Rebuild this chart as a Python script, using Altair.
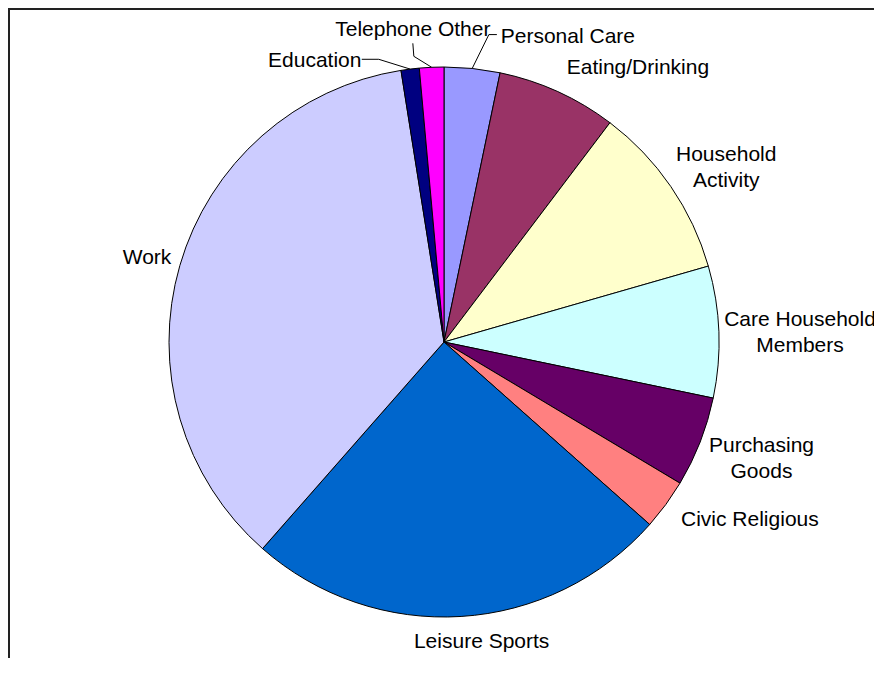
import altair as alt
import pandas as pd

# ---------------- data ----------------
categories = ["Personal Care", "Eating/Drinking", "Household Activity", "Care Household Members",
              "Purchasing Goods", "Civic Religious", "Leisure Sports", "Work", "Education",
              "Telephone Other"]
values = [3.27, 7.04, 10.24, 7.72, 5.31, 2.97, 24.92, 36.03, 1.07, 1.43]
label_texts = ["Personal Care", "Eating/Drinking", "Household\nActivity", "Care Household\nMembers",
               "Purchasing\nGoods", "Civic Religious", "Leisure Sports", "Work", "Education",
               "Telephone Other"]
colors = ["#9999FF", "#993366", "#FFFFCC", "#CCFFFF", "#660066", "#FF8080", "#0066CC",
          "#CCCCFF", "#000080", "#FF00FF"]

# ---------------- layout / style ----------------
W, H = 866, 650
CX, CY, R = 436, 334, 275
FONT = "Liberation Sans"
FS = 21
LH = 25.7
# manually moved labels (like Excel's dragged labels): nudge, leader elbow, leader end
MOVED = {
    "Personal Care": {"nudge": (64, -6), "elbow": (-79, -2), "end": (-71, -2)},
    "Telephone Other": {"nudge": (-3, -11), "elbow": (1, 26), "end": (0, 13)},
    "Education": {"nudge": (-68, 18), "elbow": (64, -2), "end": (47, -2)},
}

df = pd.DataFrame({
    "category": categories,
    "value": values,
    "label": label_texts,
    "order": list(range(len(categories))),
})
df["lines"] = [t.count("\n") + 1 for t in label_texts]
df["chars"] = [max(len(s) for s in t.split("\n")) for t in label_texts]

base = alt.Chart(df)

pie = base.mark_arc(radius=R, stroke="black", strokeWidth=1).encode(
    theta=alt.Theta("value:Q", stack=True),
    order=alt.Order("order:Q"),
    color=alt.Color("category:N", scale=alt.Scale(domain=categories, range=colors), legend=None),
    x=alt.value(CX),
    y=alt.value(CY),
)

lab = base.transform_joinaggregate(total="sum(value)").transform_window(
    cum="sum(value)", sort=[alt.SortField("order")], frame=[None, 0]
).transform_calculate(
    a="(datum.cum - datum.value/2) / datum.total * 2 * PI",
).transform_calculate(
    ax=f"{CX} + {R + 10} * sin(datum.a)",
    ay=f"{CY} - {R + 10} * cos(datum.a)",
    px=f"{CX} + {R} * sin(datum.a)",
    py=f"{CY} - {R} * cos(datum.a)",
    hw="datum.chars * 4.8",
    hh="datum.lines * 12",
).transform_calculate(
    lx="datum.ax + clamp(4.5 * sin(datum.a), -1, 1) * (datum.hw + 4)",
    ly="datum.ay - cos(datum.a) * (datum.hh + 4) - (datum.lines - 1) * 10",
)

text_style = dict(font=FONT, fontSize=FS, lineBreak="\n", lineHeight=LH,
                  align="center", baseline="middle", color="black")

xenc = alt.X("lx:Q", scale=None, axis=None)
yenc = alt.Y("ly:Q", scale=None, axis=None)

moved_names = list(MOVED.keys())
moved_js = "[" + ", ".join('"' + n + '"' for n in moved_names) + "]"
main_labels = lab.transform_filter(
    f"indexof({moved_js}, datum.category) < 0"
).mark_text(**text_style).encode(x=xenc, y=yenc, text="label:N")

layers = [pie, main_labels]

for name, m in MOVED.items():
    ndx, ndy = m["nudge"]
    edx, edy = m["elbow"]
    tdx, tdy = m["end"]
    sub = lab.transform_filter(alt.datum.category == name)
    layers.append(
        sub.mark_text(dx=ndx, dy=ndy, **text_style).encode(x=xenc, y=yenc, text="label:N")
    )
    seg = sub.transform_calculate(
        bx=f"datum.lx + {ndx + edx}", by=f"datum.ly + {ndy + edy}",
        ex=f"datum.lx + {ndx + tdx}", ey=f"datum.ly + {ndy + tdy}",
    )
    layers.append(seg.mark_rule(color="black", strokeWidth=1).encode(
        x=alt.X("px:Q", scale=None, axis=None), y=alt.Y("py:Q", scale=None, axis=None),
        x2="bx:Q", y2="by:Q"))
    layers.append(seg.mark_rule(color="black", strokeWidth=1).encode(
        x=alt.X("bx:Q", scale=None, axis=None), y=alt.Y("by:Q", scale=None, axis=None),
        x2="ex:Q", y2="ey:Q"))

one = alt.Chart(pd.DataFrame({"k": [0]}))
frame_left = one.mark_rule(color="#222222", strokeWidth=2).encode(
    x=alt.value(1), y=alt.value(0), y2=alt.value(H))
frame_top = one.mark_rule(color="#222222", strokeWidth=2).encode(
    y=alt.value(1), x=alt.value(0), x2=alt.value(W))
layers += [frame_left, frame_top]

chart = alt.layer(*layers).properties(
    width=W, height=H, autosize=alt.AutoSizeParams(type="none"),
    padding={"left": 0, "top": 0, "right": 0, "bottom": 0},
).configure_view(stroke=None).resolve_scale(x="independent", y="independent")

chart.save("out.html", embed_options={"renderer": "svg", "actions": False})
